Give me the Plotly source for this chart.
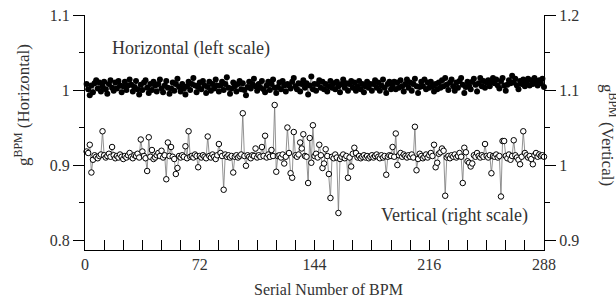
import plotly.graph_objects as go

bpm_index = list(range(1, 289))

horizontal_gain = [
    1.008, 1.001, 0.993, 1.006, 0.997, 1.009, 1.013, 1.002, 1.010, 0.998, 1.005, 1.011,
    1.001, 0.995, 1.008, 1.013, 1.003, 0.999, 1.010, 1.002, 1.012, 1.006, 0.997, 1.005,
    1.011, 1.000, 1.006, 1.014, 1.007, 0.998, 1.004, 1.012, 1.001, 0.994, 1.007, 1.000,
    1.010, 1.013, 1.003, 0.996, 1.008, 1.000, 1.011, 1.006, 0.998, 1.008, 1.014, 1.002,
    0.997, 1.006, 1.012, 1.003, 0.995, 1.002, 1.010, 0.999, 1.008, 1.015, 1.004, 0.998,
    1.008, 1.002, 0.994, 1.005, 1.011, 1.000, 1.008, 1.016, 1.006, 0.997, 1.004, 1.010,
    1.001, 1.012, 1.006, 0.996, 1.004, 1.011, 0.999, 1.008, 1.002, 1.014, 1.006, 0.998,
    1.006, 1.011, 1.000, 1.008, 1.017, 1.003, 0.995, 1.002, 1.010, 1.005, 0.998, 1.008,
    1.012, 1.001, 1.009, 1.000, 0.993, 1.004, 1.011, 1.002, 1.008, 1.015, 1.005, 0.999,
    1.008, 1.003, 1.012, 1.001, 0.997, 1.006, 1.011, 1.000, 1.008, 1.014, 1.003, 0.996,
    1.004, 1.010, 1.001, 1.012, 1.006, 0.998, 1.008, 1.006, 1.002, 1.011, 1.016, 1.005,
    1.001, 1.009, 0.998, 1.008, 1.013, 1.003, 1.009, 0.994, 1.006, 1.018, 1.001, 1.008,
    0.999, 1.008, 1.013, 1.003, 1.011, 1.001, 1.008, 0.998, 1.005, 1.012, 1.003, 1.009,
    1.001, 1.011, 1.005, 0.997, 1.008, 1.014, 1.003, 1.009, 0.999, 1.008, 1.012, 1.003,
    1.010, 0.999, 1.005, 1.012, 1.001, 1.008, 0.997, 1.005, 1.011, 1.003, 1.008, 0.999,
    1.008, 1.013, 1.003, 1.010, 0.999, 1.006, 1.014, 1.003, 0.996, 1.008, 1.011, 1.001,
    1.006, 1.011, 1.001, 1.010, 1.003, 1.013, 1.005, 0.998, 1.008, 1.014, 1.003, 1.010,
    0.999, 1.008, 1.015, 1.005, 0.996, 1.004, 1.011, 1.005, 1.014, 1.001, 1.010, 1.003,
    1.011, 1.005, 0.998, 1.008, 1.001, 1.010, 1.003, 1.013, 1.005, 1.016, 1.007, 1.000,
    1.010, 1.014, 1.005, 0.999, 1.010, 1.003, 1.012, 1.016, 1.007, 0.996, 1.004, 1.011,
    1.005, 1.001, 1.011, 1.015, 1.007, 0.998, 1.009, 1.016, 1.005, 1.012, 1.003, 1.010,
    1.013, 1.005, 1.011, 1.016, 1.009, 1.014, 1.006, 1.002, 1.012, 1.016, 1.006, 0.999,
    1.007, 1.013, 1.009, 1.019, 1.010, 1.015, 1.006, 1.001, 1.012, 1.008, 1.014, 1.005,
    1.010, 1.015, 1.006, 1.013, 1.008, 1.016, 1.011, 1.006, 1.013, 1.009, 1.015, 1.004,
]

vertical_gain = [
    1.018, 1.016, 1.027, 0.990, 1.007, 1.013, 1.011, 1.009, 1.012, 1.014, 1.045, 1.013,
    1.010, 1.012, 1.015, 1.011, 1.024, 1.013, 1.009, 1.012, 1.010, 1.014, 1.011, 1.008,
    1.012, 1.010, 1.013, 1.016, 1.011, 1.009, 1.013, 1.012, 1.015, 1.010, 1.034, 1.018,
    1.012, 1.009, 0.992, 1.037, 1.011, 1.020, 1.008, 1.010, 1.013, 1.016, 1.012, 1.019,
    1.010, 1.013, 0.981, 1.030, 1.012, 1.024, 1.011, 1.008, 0.988, 0.996, 1.012, 1.010,
    1.013, 1.011, 1.025, 1.009, 1.045, 1.011, 1.012, 1.010, 1.014, 1.012, 0.997, 1.012,
    1.010, 1.013, 1.011, 1.009, 1.038, 1.012, 1.010, 1.014, 1.011, 1.008, 1.013, 1.028,
    1.016, 1.012, 0.967, 1.014, 1.011, 1.013, 1.010, 1.012, 0.990, 1.011, 1.013, 1.010,
    1.012, 1.014, 1.069, 1.012, 0.999, 1.013, 1.011, 1.009, 1.013, 1.012, 1.022, 1.010,
    1.013, 1.011, 1.024, 1.012, 1.039, 1.010, 1.014, 1.011, 1.020, 1.012, 1.080, 0.991,
    1.012, 1.013, 1.010, 1.014, 1.002, 1.011, 1.050, 1.016, 0.989, 0.983, 1.044, 1.013,
    1.011, 1.014, 1.030, 1.022, 1.041, 1.012, 1.011, 0.976, 1.036, 1.003, 1.053, 1.012,
    1.015, 1.010, 1.027, 1.013, 0.996, 1.002, 1.021, 1.012, 0.988, 0.956, 1.011, 1.009,
    1.014, 1.010, 0.936, 1.008, 1.011, 1.014, 1.009, 1.012, 0.983, 1.010, 0.998, 1.015,
    1.023, 1.016, 1.010, 1.012, 1.009, 1.011, 1.013, 1.010, 1.012, 1.009, 1.011, 1.013,
    1.010, 1.012, 1.014, 1.011, 1.009, 1.013, 1.010, 1.012, 0.987, 1.011, 1.013, 1.012,
    1.024, 1.011, 1.042, 1.000, 1.013, 1.016, 1.011, 1.014, 1.012, 1.010, 1.013, 1.011,
    1.014, 1.010, 1.051, 0.993, 1.008, 1.015, 1.012, 1.009, 1.011, 1.014, 1.010, 1.013,
    1.016, 1.012, 1.027, 0.997, 1.003, 1.015, 1.017, 1.022, 1.019, 0.959, 1.010, 1.012,
    1.009, 1.013, 1.011, 1.014, 1.010, 1.012, 1.016, 1.011, 0.976, 1.023, 1.017, 1.005,
    1.003, 0.998, 1.002, 1.013, 1.011, 1.016, 1.012, 1.010, 1.013, 1.011, 1.028, 1.012,
    1.010, 1.013, 0.989, 1.012, 1.011, 1.014, 1.010, 1.012, 0.958, 1.032, 1.032, 1.012,
    1.009, 1.014, 1.007, 1.012, 1.033, 1.013, 1.010, 1.007, 1.001, 1.011, 1.045, 1.016,
    1.013, 1.010, 1.012, 1.008, 1.001, 1.013, 1.016, 1.011, 1.014, 1.012, 1.013, 1.011,
]

x_ticks = [0, 72, 144, 216, 288]
left_ticks = [0.8, 0.9, 1.0, 1.1]
left_tick_text = ["0.8", "0.9", "1", "1.1"]
right_ticks = [0.9, 1.0, 1.1, 1.2]
right_tick_text = ["0.9", "1", "1.1", "1.2"]

FONT = "Liberation Serif, Times New Roman, serif"
TXT = "#333333"

# plot area in pixels: x 85..544, y 15..250
def px_to_paper_x(px):
    return (px - 85) / 459

def px_to_paper_y(py):
    return (250 - py) / 235

fig = go.Figure()
fig.add_trace(go.Scatter(
    x=bpm_index, y=horizontal_gain, mode="lines+markers",
    line=dict(color="#666666", width=0.8),
    marker=dict(symbol="circle", size=6, color="black", line=dict(width=0)),
    yaxis="y", showlegend=False, cliponaxis=False,
))
fig.add_trace(go.Scatter(
    x=bpm_index, y=vertical_gain, mode="lines+markers",
    line=dict(color="#777777", width=0.8),
    marker=dict(symbol="circle", size=5.5, color="white", line=dict(color="black", width=1)),
    yaxis="y2", showlegend=False, cliponaxis=False,
))

fig.update_layout(
    width=616, height=301,
    margin=dict(l=85, r=72, t=15, b=51, autoexpand=False),
    plot_bgcolor="white", paper_bgcolor="white",
    font=dict(family=FONT, size=16, color=TXT),
    xaxis=dict(
        range=[0, 288], tickvals=x_ticks, ticktext=[str(v) for v in x_ticks],
        ticks="inside", ticklen=10, tickcolor="black", tickwidth=1,
        minor=dict(dtick=12, tick0=0, ticks="inside", ticklen=10, tickcolor="black"),
        showline=True, linecolor="black", linewidth=1, mirror=False,
        showgrid=False, zeroline=False, automargin=False,
        tickfont=dict(family=FONT, size=16, color=TXT),
    ),
    yaxis=dict(
        range=[1.1 - 235 / 750, 1.1], tickvals=left_ticks, ticktext=left_tick_text,
        ticks="outside", ticklen=11, tickcolor="black", tickwidth=1,
        minor=dict(dtick=0.05, tick0=0.8, ticks="outside", ticklen=5, tickcolor="black"),
        showline=True, linecolor="black", linewidth=1,
        showgrid=False, zeroline=False, automargin=False,
        tickfont=dict(family=FONT, size=16, color=TXT),
    ),
    yaxis2=dict(
        range=[1.2 - 235 / 750, 1.2], tickvals=right_ticks, ticktext=right_tick_text,
        overlaying="y", side="right",
        ticks="outside", ticklen=11, tickcolor="black", tickwidth=1,
        minor=dict(dtick=0.05, tick0=0.9, ticks="outside", ticklen=5, tickcolor="black"),
        showline=True, linecolor="black", linewidth=1,
        showgrid=False, zeroline=False, automargin=False,
        tickfont=dict(family=FONT, size=16, color=TXT),
    ),
    annotations=[
        dict(text="Horizontal (left scale)", x=66.5, y=1.056, xref="x", yref="y",
             xanchor="center", yanchor="middle",
             showarrow=False, font=dict(family=FONT, size=18, color=TXT)),
        dict(text="Vertical (right scale)", x=231.8, y=0.8333, xref="x", yref="y",
             xanchor="center", yanchor="middle",
             showarrow=False, font=dict(family=FONT, size=18, color=TXT)),
        dict(text="Serial Number of BPM", x=px_to_paper_x(328), y=px_to_paper_y(289),
             xref="paper", yref="paper", xanchor="center", yanchor="middle", showarrow=False,
             font=dict(family=FONT, size=16, color=TXT)),
        dict(text="g<sup>BPM</sup> (Horizontal)", x=px_to_paper_x(22), y=px_to_paper_y(105),
             xref="paper", yref="paper", xanchor="center", yanchor="middle",
             textangle=-90, showarrow=False,
             font=dict(family=FONT, size=17, color=TXT)),
        dict(text="g<sup>BPM</sup> (Vertical)", x=px_to_paper_x(609), y=px_to_paper_y(135),
             xref="paper", yref="paper", xanchor="center", yanchor="middle",
             textangle=90, showarrow=False,
             font=dict(family=FONT, size=17, color=TXT)),
    ],
)

fig.write_html("out.html", config={"displayModeBar": False},
               post_script="document.body.style.margin='0px';")
